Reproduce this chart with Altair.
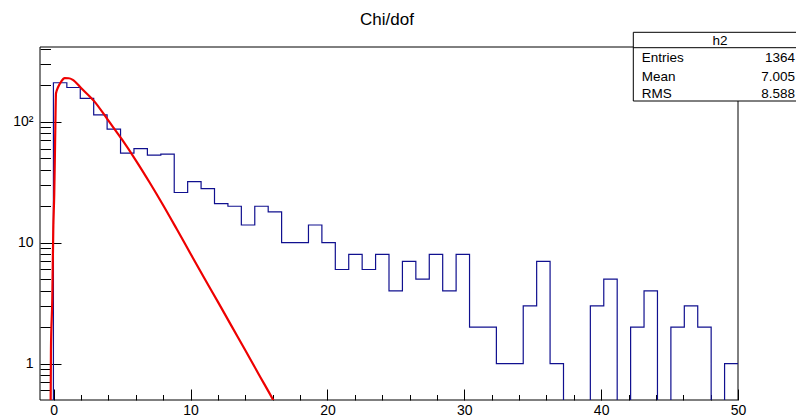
import altair as alt
import numpy as np
import pandas as pd

# ---------------- data ----------------
title_text = "Chi/dof"
x_min, x_max, n_bins = -1.0, 50.0, 52
counts = [0, 210, 192, 156, 114, 87, 55, 60, 53, 54, 26, 32, 28, 21, 20, 14, 20, 18,
          10, 10, 14, 10, 6, 8, 6, 8, 4, 7, 5, 8, 4, 8, 2, 2, 1, 1, 3, 7, 1, 0, 0,
          3, 5, 0, 2, 4, 0, 2, 3, 2, 0, 1]
fit_x = [-0.26, -0.22, -0.2, -0.1, -0.03, 0.04, 0.1, 0.17, 0.31, 0.55, 0.8, 1.1, 1.4,
         2.0, 3.0, 4.0, 5.0, 6.0, 7.0, 8.0, 9.0, 10.0, 11.0, 12.0, 13.0, 14.0, 15.0,
         16.0, 16.5]
fit_y = [0.3, 0.5, 1.3, 3.5, 13, 25, 64, 172, 192, 215, 229, 229, 222,
         190, 146, 102, 71, 48, 31.6, 20.4, 12.9, 8.1, 5.1, 3.24, 2.04, 1.29, 0.81,
         0.51, 0.4]
stats_name = "h2"
stats_labels = ["Entries", "Mean", "RMS"]
stats_values = ["1364", "7.005", "8.588"]
x_major = [0, 10, 20, 30, 40, 50]
x_minor = [2, 4, 6, 8, 12, 14, 16, 18, 22, 24, 26, 28, 32, 34, 36, 38, 42, 44, 46, 48]
y_major = [1, 10, 100]
y_minor = [0.6, 0.7, 0.8, 0.9, 2, 3, 4, 5, 6, 7, 8, 9, 20, 30, 40, 50, 60, 70, 80, 90,
           200, 300, 400]
y_domain = [0.5, 415]

# ---------------- build ----------------
edges = np.linspace(x_min, x_max, n_bins + 1)
hist = pd.DataFrame({"x": list(edges[:-1]) + [edges[-1]],
                     "count": counts + [counts[-1]]})
fit = pd.DataFrame({"x": fit_x, "y": fit_y})
one = pd.DataFrame({"t": [title_text]})

FONT = "Liberation Sans"
W, H = 698, 353

xscale = alt.Scale(domain=[x_min, x_max], nice=False, zero=False)
yscale = alt.Scale(type="log", domain=y_domain, nice=False)

common_axis = dict(domain=False, grid=False, tickColor="black", tickWidth=1,
                   labelFont=FONT, labelFontSize=14, labelColor="black",
                   labelOverlap=False, labelFlush=False, title="")

frame = alt.Chart(one).mark_rect(fill="transparent", stroke="black", strokeWidth=1).encode(
    x=alt.value(0), x2=alt.value(W), y=alt.value(0), y2=alt.value(H))

hist_layer = alt.Chart(hist).transform_calculate(
    yplot="max(datum.count, 0.1)"
).mark_line(interpolate="step-after", color="#10108f", strokeWidth=1.2, clip=True).encode(
    x=alt.X("x:Q", scale=xscale,
            axis=alt.Axis(orient="bottom", values=x_major, offset=-11, tickSize=11,
                          labelPadding=3, **common_axis)),
    y=alt.Y("yplot:Q", scale=yscale,
            axis=alt.Axis(orient="left", values=y_major, offset=-21, tickSize=21,
                          labelPadding=7,
                          labelExpr="datum.value >= 100 ? '10\u00b2' : datum.label",
                          **common_axis)),
)

fit_layer = alt.Chart(fit).mark_line(color="#ee0000", strokeWidth=2.2, clip=True,
                                     interpolate="monotone").encode(
    x=alt.X("x:Q", scale=xscale,
            axis=alt.Axis(orient="bottom", values=x_minor, offset=-5.5, tickSize=5.5,
                          labels=False, **common_axis)),
    y=alt.Y("y:Q", scale=yscale,
            axis=alt.Axis(orient="left", values=y_minor, offset=-10.5, tickSize=10.5,
                          labels=False, **common_axis)),
)

title_layer = alt.Chart(one).mark_text(font=FONT, fontSize=17, color="black",
                                       align="center", baseline="alphabetic").encode(
    text="t:N", x=alt.value(347), y=alt.value(-22))

box_left, box_right, box_top, box_bottom = 593.3, 770, -14.7, 54
box = alt.Chart(one).mark_rect(fill="white", stroke="black", strokeWidth=1).encode(
    x=alt.value(box_left), x2=alt.value(box_right),
    y=alt.value(box_top), y2=alt.value(box_bottom))
box_line = alt.Chart(one).mark_rule(color="black", strokeWidth=1).encode(
    x=alt.value(box_left), x2=alt.value(box_right), y=alt.value(0.7))
name_df = pd.DataFrame({"t": [stats_name]})
box_name = alt.Chart(name_df).mark_text(font=FONT, fontSize=13.5, color="black",
                                        align="center", baseline="middle").encode(
    text="t:N", x=alt.value(680), y=alt.value(-6))

row_y = [11.3, 29.5, 47.0]
stat_layers = []
for lab, val, ry in zip(stats_labels, stats_values, row_y):
    d = pd.DataFrame({"lab": [lab], "val": [val]})
    stat_layers.append(alt.Chart(d).mark_text(font=FONT, fontSize=13.5, color="black",
                                              align="left", baseline="middle").encode(
        text="lab:N", x=alt.value(601.7), y=alt.value(ry)))
    stat_layers.append(alt.Chart(d).mark_text(font=FONT, fontSize=13.5, color="black",
                                              align="right", baseline="middle").encode(
        text="val:N", x=alt.value(755), y=alt.value(ry)))

chart = alt.layer(
    frame, hist_layer, fit_layer, title_layer, box, box_line, box_name, *stat_layers
).resolve_axis(x="independent", y="independent").properties(
    width=W, height=H,
    autosize=alt.AutoSizeParams(type="none"),
    padding={"left": 32, "top": 39, "right": 58, "bottom": 18},
    background="white",
).configure_view(strokeWidth=0)

chart.save("out.html", embed_options={"renderer": "svg", "actions": False})
